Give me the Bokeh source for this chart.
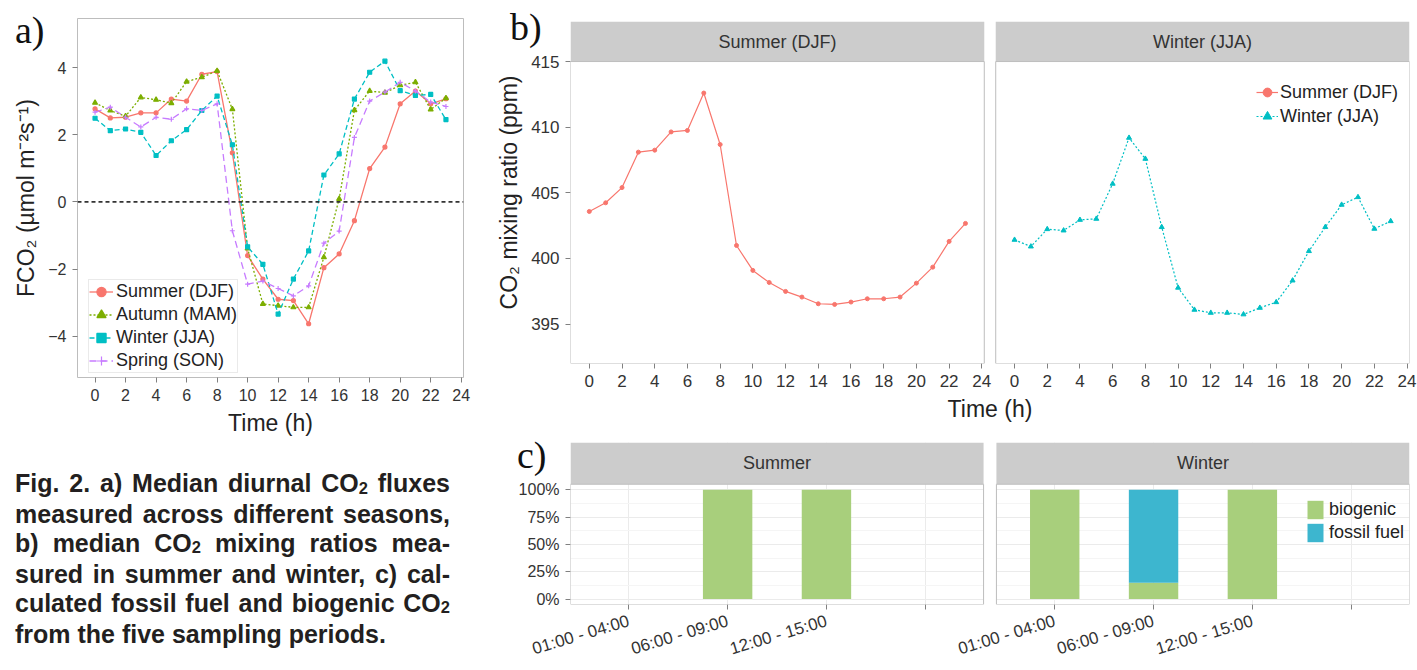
import math
from bokeh.plotting import figure
from bokeh.models import (Range1d, FixedTicker, Legend, LegendItem, BoxAnnotation, Label, Span, Div,
                          NumeralTickFormatter, ColumnDataSource)
from bokeh.layouts import row, column
from bokeh.embed import file_html
from bokeh.resources import INLINE

# ---------------- data ----------------
hours = list(range(24))
hour_ticks = list(range(0, 25, 2))

# a) median diurnal CO2 flux (umol m-2 s-1)
flux_summer = [2.77, 2.50, 2.52, 2.65, 2.65, 3.06, 3.00, 3.80, 3.88, 1.46, -1.60, -2.30,
               -2.90, -2.94, -3.63, -1.96, -1.55, -0.56, 0.99, 1.63, 2.92, 3.30, 2.92, 3.07]
flux_autumn = [2.95, 2.72, 2.55, 3.11, 3.04, 2.94, 3.58, 3.71, 3.90, 2.76, -1.39, -3.04,
               -3.09, -3.14, -3.14, -1.65, 0.09, 2.73, 3.30, 3.25, 3.47, 3.56, 2.75, 3.09]
flux_winter = [2.49, 2.12, 2.17, 2.07, 1.38, 1.82, 2.15, 2.72, 3.15, 1.70, -1.34, -1.86,
               -3.34, -2.30, -1.46, 0.80, 1.43, 3.06, 3.86, 4.19, 3.31, 3.17, 3.20, 2.45]
flux_spring = [2.67, 2.82, 2.52, 2.23, 2.52, 2.46, 2.77, 2.72, 2.92, -0.86, -2.45, -2.36,
               -2.58, -2.80, -2.50, -1.23, -0.87, 1.92, 3.00, 3.27, 3.56, 3.30, 2.97, 2.84]
flux_names = ["Summer (DJF)", "Autumn (MAM)", "Winter (JJA)", "Spring (SON)"]
flux_ticks_y = [-4, -2, 0, 2, 4]

# b) median CO2 mixing ratio (ppm)
co2_summer = [403.58, 404.24, 405.40, 408.10, 408.25, 409.64, 409.75, 412.60, 408.68, 400.99,
              399.09, 398.17, 397.49, 397.06, 396.55, 396.50, 396.68, 396.93, 396.93, 397.06,
              398.12, 399.34, 401.30, 402.67]
co2_winter = [401.42, 400.91, 402.23, 402.13, 402.94, 403.02, 405.69, 409.19, 407.59, 402.39,
              397.77, 396.09, 395.86, 395.86, 395.74, 396.24, 396.67, 398.32, 400.56, 402.39,
              404.09, 404.67, 402.26, 402.84]
co2_facets = ["Summer (DJF)", "Winter (JJA)"]
co2_ticks_y = [395, 400, 405, 410, 415]

# c) share of biogenic / fossil-fuel CO2 per sampling period
periods = ["01:00 - 04:00", "06:00 - 09:00", "12:00 - 15:00", "NA"]
period_labels = ["01:00 - 04:00", "06:00 - 09:00", "12:00 - 15:00", ""]
nan = float("nan")
summer_biogenic = [nan, 1.00, 1.00, nan]
summer_fossil = [nan, 0.00, 0.00, nan]
winter_biogenic = [1.00, 0.15, 1.00, nan]
winter_fossil = [0.00, 0.85, 0.00, nan]
share_facets = ["Summer", "Winter"]
share_ticks_y = [0, 0.25, 0.5, 0.75, 1.0]
share_minor_y = [0.125, 0.375, 0.625, 0.875]
source_names = ["biogenic", "fossil fuel"]

panel_letters = ["a)", "b)", "c)"]
caption_lines = [
    "Fig. 2. a) Median diurnal CO{2} fluxes",
    "measured across different seasons,",
    "b) median CO{2} mixing ratios mea-",
    "sured in summer and winter, c) cal-",
    "culated fossil fuel and biogenic CO{2}",
    "from the five sampling periods.",
]

# ---------------- style ----------------
FONT = "Liberation Sans"
TXT = "#333333"
TICK = "#808080"
BORDER = "#BDBDBD"
STRIP = "#CCCCCC"
RED, GREEN, CYAN, PURPLE = "#F8766D", "#7CAE00", "#00BFC4", "#C77CFF"
BIO, FOSSIL = "#A8CF7C", "#3DB6CF"


def style_axes(p, tick_size="16px"):
    for ax in p.axis:
        ax.axis_line_color = None
        ax.major_tick_line_color = TICK
        ax.major_tick_in = 0
        ax.major_tick_out = 5
        ax.minor_tick_line_color = None
        ax.major_label_standoff = 6
        ax.major_label_text_font = FONT
        ax.major_label_text_font_size = tick_size
        ax.major_label_text_color = TXT
        ax.axis_label_text_font = FONT
        ax.axis_label_text_font_style = "normal"
        ax.axis_label_text_color = "#222222"
        ax.axis_label_text_font_size = "23px"
        ax.axis_label_standoff = 6


def letter_div(text, left, top, h=50):
    return Div(text=(f'<div style="font-family:\'Liberation Serif\';font-size:38px;line-height:38px;'
                     f'color:#111111;padding:{top}px 0 0 {left}px;white-space:nowrap;">{text}</div>'),
               width=90, height=h, margin=(0, 0, -h, 0))


# ---------------- panel a ----------------
pa = figure(width=480, height=445, x_range=Range1d(-1.15, 24.15), y_range=Range1d(-5.23, 5.46),
            min_border_left=77, min_border_right=17, min_border_top=18, min_border_bottom=68,
            output_backend="svg", toolbar_location=None)
pa.grid.visible = False
pa.outline_line_color = BORDER
pa.background_fill_color = "white"
pa.border_fill_alpha = 0
style_axes(pa, "16px")
pa.xaxis.ticker = FixedTicker(ticks=hour_ticks)
pa.yaxis.ticker = FixedTicker(ticks=flux_ticks_y)
pa.xaxis.axis_label = "Time (h)"
pa.yaxis.axis_label = "FCO₂ (µmol m⁻²s⁻¹)"
pa.add_layout(Span(location=0, dimension="width", line_color="#333333", line_dash="4 3", line_width=1.6))

a_series = [
    (flux_names[0], flux_summer, RED, "solid", "circle", 4),
    (flux_names[1], flux_autumn, GREEN, "2 2", "triangle", 5),
    (flux_names[2], flux_winter, CYAN, "5 3", "square", 4),
    (flux_names[3], flux_spring, PURPLE, "7 4", "cross", 5),
]
a_items = []
for name, vals, col, dash, mk, sz in a_series:
    rl = pa.line(hours, vals, line_color=col, line_width=1.3, line_dash=dash)
    rs = pa.scatter(hours, vals, marker=mk, size=sz, fill_color=col, line_color=col, line_width=1.2)
    a_items.append(LegendItem(label=name, renderers=[rl, rs]))
leg_a = Legend(items=a_items, location=(11, 4), padding=0, spacing=0, margin=0,
               glyph_width=24, glyph_height=23, label_height=23, label_standoff=3,
               label_text_font=FONT, label_text_font_size="18px", label_text_color="#222222",
               border_line_color="#D6D6D6", background_fill_color="white", background_fill_alpha=1)
pa.add_layout(leg_a)

# ---------------- panel b ----------------
B_OFF = 26
pb = figure(width=937, height=425, x_range=Range1d(-1.15, B_OFF + 24.15), y_range=Range1d(392.0, 418.05),
            min_border_left=90, min_border_right=8, min_border_top=21, min_border_bottom=62,
            output_backend="svg", toolbar_location=None)
pb.grid.visible = False
pb.outline_line_color = None
pb.border_fill_alpha = 0
style_axes(pb, "17px")
pb.xaxis.ticker = FixedTicker(ticks=hour_ticks + [B_OFF + t for t in hour_ticks])
ov_b = {}
for t in hour_ticks:
    ov_b[B_OFF + t] = str(t)
    ov_b[str(B_OFF + t)] = str(t)
pb.xaxis.major_label_overrides = ov_b
pb.yaxis.ticker = FixedTicker(ticks=co2_ticks_y)
pb.xaxis.axis_label = "Time (h)"
pb.yaxis.axis_label = "CO₂ mixing ratio (ppm)"

pb.add_layout(BoxAnnotation(left=24.15, right=B_OFF - 1.15, fill_color="white", fill_alpha=1, line_alpha=0))
pb.add_layout(BoxAnnotation(right=24.15, bottom=415, fill_color=STRIP, fill_alpha=1, line_alpha=0))
pb.add_layout(BoxAnnotation(left=B_OFF - 1.15, bottom=415, fill_color=STRIP, fill_alpha=1, line_alpha=0))
pb.add_layout(BoxAnnotation(right=24.15, top=415, fill_alpha=0, line_color=BORDER, line_alpha=1, line_width=1))
pb.add_layout(BoxAnnotation(left=B_OFF - 1.15, top=415, fill_alpha=0, line_color=BORDER, line_alpha=1, line_width=1))
for i, nm in enumerate(co2_facets):
    pb.add_layout(Label(x=11.5 + i * B_OFF, y=416.5, text=nm, text_align="center", text_baseline="middle",
                        text_font=FONT, text_font_size="18px", text_color=TXT))

xs_w = [h + B_OFF for h in hours]
r1 = pb.line(hours, co2_summer, line_color=RED, line_width=1.2)
r2 = pb.scatter(hours, co2_summer, marker="circle", size=4, color=RED)
r3 = pb.line(xs_w, co2_winter, line_color=CYAN, line_width=1.2, line_dash="2 2")
r4 = pb.scatter(xs_w, co2_winter, marker="triangle", size=5, color=CYAN)
leg_b = Legend(items=[LegendItem(label=co2_facets[0], renderers=[r1, r2]),
                      LegendItem(label=co2_facets[1], renderers=[r3, r4])],
               location=(686, 235), padding=0, spacing=0, margin=0,
               glyph_width=22, glyph_height=24, label_height=24, label_standoff=2,
               label_text_font=FONT, label_text_font_size="18px", label_text_color="#222222",
               border_line_color=None, background_fill_color="white", background_fill_alpha=1)
pb.add_layout(leg_b)

# ---------------- panel c ----------------
C_OFF = 4.31
pos_s = [float(i) for i in range(len(periods))]
pos_w = [round(C_OFF + i, 2) for i in range(len(periods))]
pc = figure(width=937, height=245, x_range=Range1d(-0.59, C_OFF + 3.59), y_range=Range1d(-0.05, 1.4315),
            min_border_left=88, min_border_right=2, min_border_top=17, min_border_bottom=61,
            output_backend="svg", toolbar_location=None)
pc.outline_line_color = None
pc.border_fill_alpha = 0
style_axes(pc, "16px")
pc.xaxis.major_label_text_font_size = "17px"
pc.xaxis.major_label_orientation = 0.29
pc.xaxis.major_label_standoff = 11
pc.xaxis.ticker = FixedTicker(ticks=pos_s + pos_w)
ov_c = {}
for p_, lab in zip(pos_s + pos_w, period_labels + period_labels):
    ov_c[p_] = lab
    ov_c[str(p_)] = lab
pc.xaxis.major_label_overrides = ov_c
pc.yaxis.ticker = FixedTicker(ticks=share_ticks_y, minor_ticks=share_minor_y)
pc.yaxis.formatter = NumeralTickFormatter(format="0%")
pc.xgrid.grid_line_color = "#EBEBEB"
pc.ygrid.grid_line_color = "#EBEBEB"
pc.ygrid.minor_grid_line_color = "#F5F5F5"

src = ColumnDataSource(dict(x=pos_s + pos_w,
                            biogenic=summer_biogenic + winter_biogenic,
                            fossil=summer_fossil + winter_fossil))
bars = pc.vbar_stack(["biogenic", "fossil"], x="x", width=0.5, source=src,
                     fill_color=[BIO, FOSSIL], line_color=None)
pc.add_layout(BoxAnnotation(left=3.59, right=C_OFF - 0.59, fill_color="white", fill_alpha=1, line_alpha=0))
pc.add_layout(BoxAnnotation(right=3.59, bottom=1.05, fill_color=STRIP, fill_alpha=1, line_alpha=0))
pc.add_layout(BoxAnnotation(left=C_OFF - 0.59, bottom=1.05, fill_color=STRIP, fill_alpha=1, line_alpha=0))
pc.add_layout(BoxAnnotation(right=3.59, top=1.05, fill_alpha=0, line_color=BORDER, line_alpha=1, line_width=1))
pc.add_layout(BoxAnnotation(left=C_OFF - 0.59, top=1.05, fill_alpha=0, line_color=BORDER, line_alpha=1, line_width=1))
for i, nm in enumerate(share_facets):
    pc.add_layout(Label(x=1.5 + i * C_OFF, y=1.24, text=nm, text_align="center", text_baseline="middle",
                        text_font=FONT, text_font_size="18px", text_color=TXT))
leg_c = Legend(items=[LegendItem(label=source_names[0], renderers=[bars[0]]),
                      LegendItem(label=source_names[1], renderers=[bars[1]])],
               location=(735, 60), padding=0, spacing=0, margin=0,
               glyph_width=20, glyph_height=23, label_height=23, label_standoff=4,
               label_text_font=FONT, label_text_font_size="18px", label_text_color="#222222",
               border_line_color=None, background_fill_alpha=0)
pc.add_layout(leg_c)

# ---------------- caption ----------------
SUB = '<span style="font-size:0.66em;position:relative;top:0.1em;">2</span>'
parts = []
for i, ln in enumerate(caption_lines):
    last = "left" if i == len(caption_lines) - 1 else "justify"
    parts.append(f'<div style="text-align:justify;text-align-last:{last};white-space:nowrap;">'
                 f'{ln.replace("{2}", SUB)}</div>')
caption = Div(text=('<div style="font-family:\'Liberation Sans\';font-weight:bold;font-size:25px;'
                    'line-height:28.4px;color:#231F20;width:450px;padding:24px 0 0 15px;">'
                    + "".join(parts) + '</div>'),
              width=480, height=225, margin=(0, 0, 0, 0))

left_col = column(letter_div(panel_letters[0], 15, 11), pa, caption)
right_col = column(letter_div(panel_letters[1], 30, 8), pb, letter_div(panel_letters[2], 37, 11), pc)
layout = row(left_col, right_col)
open("out.html", "w").write(file_html(layout, INLINE))
